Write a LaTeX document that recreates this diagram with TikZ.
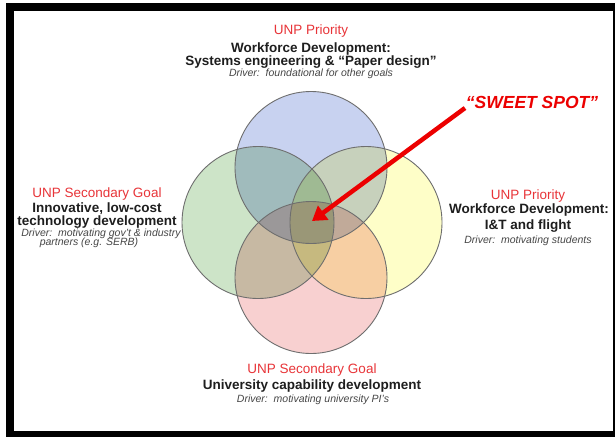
\documentclass[tikz,border=0pt]{standalone}
\usepackage{fontspec}
\setmainfont{Liberation Sans}
\usetikzlibrary{arrows.meta}
\definecolor{cblue}{RGB}{200,210,240}
\definecolor{cgreen}{RGB}{205,228,200}
\definecolor{cyellow}{RGB}{254,254,200}
\definecolor{cpink}{RGB}{248,208,208}
\definecolor{edgegray}{RGB}{110,110,110}
\definecolor{unpred}{RGB}{232,52,56}
\definecolor{spotred}{RGB}{236,0,0}
\definecolor{boldtxt}{RGB}{30,30,30}
\definecolor{drvtxt}{RGB}{70,70,70}
\tikzset{
  redline/.style={anchor=base, text=unpred, font=\fontsize{13.5}{15}\selectfont, inner sep=0pt},
  boldline/.style={anchor=base, text=boldtxt, font=\fontsize{13.5}{15}\selectfont\bfseries, inner sep=0pt},
  drvline/.style={anchor=base, text=drvtxt, font=\fontsize{10.5}{12}\selectfont\itshape, inner sep=0pt},
  ring/.style={draw=edgegray, line width=0.9pt},
  bigarrow/.style={draw=spotred, line width=4.5pt, -{Triangle[length=14pt,width=17pt]}},
}
\begin{document}
\begin{tikzpicture}[x=1pt,y=-1pt]
\useasboundingbox (0,0) rectangle (615,437);
\fill[white] (0,0) rectangle (615,437);
% frame
\fill[black] (6,3) rectangle (615,11);
\fill[black] (6,3) rectangle (14,436);
\fill[black] (6,431) rectangle (615,437);
\fill[black] (613,3) rectangle (615,437);
% circles
\begin{scope}[blend mode=multiply]
\fill[cblue]   (311,167.5) circle (76pt);
\fill[cgreen]  (258,222.5) circle (76pt);
\fill[cyellow] (366,222.5) circle (76pt);
\fill[cpink]   (311,277.5) circle (76pt);
\end{scope}
\draw[ring] (311,167.5) circle (76pt);
\draw[ring] (258,222.5) circle (76pt);
\draw[ring] (366,222.5) circle (76pt);
\draw[ring] (311,277.5) circle (76pt);
% top block
\node[redline]  (t1) at (311,34) {UNP Priority};
\node[boldline] (t2) at (311,52) {Workforce Development:};
\node[boldline] (t3) at (311,65) {Systems engineering \& “Paper design”};
\node[drvline]  (t4) at (311,76) {Driver:\ \ foundational for other goals};
% left block
\node[redline]  (l1) at (97,197.5) {UNP Secondary Goal};
\node[boldline] (l2) at (97,212) {Innovative, low-cost};
\node[boldline] (l3) at (97,225.5) {technology development};
\node[drvline]  (l4) at (101,236.5) {Driver:\ \ motivating gov’t \& industry};
\node[drvline]  (l5) at (89,245.5) {partners (e.g. SERB)};
% right block
\node[redline]  (r1) at (528,199.5) {UNP Priority};
\node[boldline] (r2) at (529,213.5) {Workforce Development:};
\node[boldline] (r3) at (528,229) {I\&T and flight};
\node[drvline]  (r4) at (528,243.5) {Driver:\ \ motivating students};
% bottom block
\node[redline]  (b1) at (312,373) {UNP Secondary Goal};
\node[boldline] (b2) at (312,389.5) {University capability development};
\node[drvline]  (b3) at (313,402.5) {Driver:\ \ motivating university PI’s};
% sweet spot
\node[anchor=base, text=spotred, font=\fontsize{17.5}{19}\selectfont\bfseries\itshape, inner sep=0pt] (sweet) at (532,108) {“SWEET SPOT”};
\coordinate (astart) at (465,108);
\coordinate (spot) at (312,221);
\draw[bigarrow] (astart) -- (spot);
\end{tikzpicture}
\end{document}
